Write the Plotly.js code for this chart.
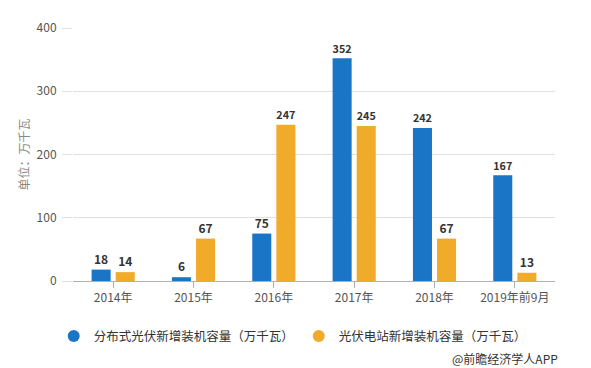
<!DOCTYPE html>
<html>
<head>
<meta charset="utf-8">
<script src="https://cdn.plot.ly/plotly-3.0.1.min.js"></script>
<style>html,body{margin:0;padding:0;background:#fff;}#chart{width:591px;height:368px;}</style>
</head>
<body>
<div id="chart"></div>
<script>
const categories = ['2014年', '2015年', '2016年', '2017年', '2018年', '2019年前9月'];
const distributed = [18, 6, 75, 352, 242, 167];
const station = [14, 67, 247, 245, 67, 13];
const seriesNames = ['分布式光伏新增装机容量（万千瓦）', '光伏电站新增装机容量（万千瓦）'];
const yTicks = [0, 100, 200, 300, 400];

const FONT = '"Noto Sans CJK SC", "Microsoft YaHei", sans-serif';
const BLUE = '#1b75c6';
const ORANGE = '#f0ab2a';

const labelFont = {family: FONT, size: 12, color: '#333', weight: 'bold'};

const traces = [
  {type: 'bar', x: categories, y: distributed, marker: {color: BLUE}, text: distributed.map(String),
   textposition: 'outside', textfont: labelFont, cliponaxis: false, showlegend: false, hoverinfo: 'none'},
  {type: 'bar', x: categories, y: station, marker: {color: ORANGE}, text: station.map(String),
   textposition: 'outside', textfont: labelFont, cliponaxis: false, showlegend: false, hoverinfo: 'none'},
  {type: 'scatter', mode: 'markers', x: [null], y: [null], name: seriesNames[0],
   marker: {color: BLUE, size: 13, symbol: 'circle'}, showlegend: true},
  {type: 'scatter', mode: 'markers', x: [null], y: [null], name: seriesNames[1],
   marker: {color: ORANGE, size: 13, symbol: 'circle'}, showlegend: true}
];

const layout = {
  width: 591, height: 368,
  margin: {l: 73, r: 36, t: 28, b: 87},
  paper_bgcolor: '#fff', plot_bgcolor: '#fff',
  font: {family: FONT, size: 12, color: '#555'},
  barmode: 'group', bargap: 0.40, bargroupgap: 0.21,
  xaxis: {
    type: 'category', showgrid: false, showline: true, linecolor: '#b0b0b0', linewidth: 1,
    ticks: 'outside', ticklen: 6, tickcolor: '#b0b0b0',
    tickfont: {family: FONT, size: 12, color: '#555'}, zeroline: false, fixedrange: true
  },
  yaxis: {
    range: [0, 400], tickvals: yTicks, showgrid: true, gridcolor: '#e0e0e0', gridwidth: 1,
    zeroline: false, showline: false, ticks: 'outside', ticklen: 10, tickcolor: '#e0e0e0',
    ticklabelstandoff: 3,
    tickfont: {family: FONT, size: 12, color: '#555'},
    title: {text: '单位：万千瓦', font: {family: FONT, size: 12, color: '#888'}, standoff: 4},
    fixedrange: true
  },
  legend: {
    orientation: 'h', x: -0.04, xanchor: 'left', y: -0.16, yanchor: 'top',
    font: {family: FONT, size: 12.5, color: '#333'}, itemsizing: 'constant',
    bgcolor: 'rgba(0,0,0,0)', itemclick: false
  },
  annotations: [
    {xref: 'paper', yref: 'paper', x: 1.01, y: -0.265, xanchor: 'right', yanchor: 'top',
     text: '@前瞻经济学人APP', showarrow: false, font: {family: FONT, size: 12, color: '#333'}}
  ]
};

Plotly.newPlot('chart', traces, layout, {displayModeBar: false, staticPlot: true});
</script>
</body>
</html>
